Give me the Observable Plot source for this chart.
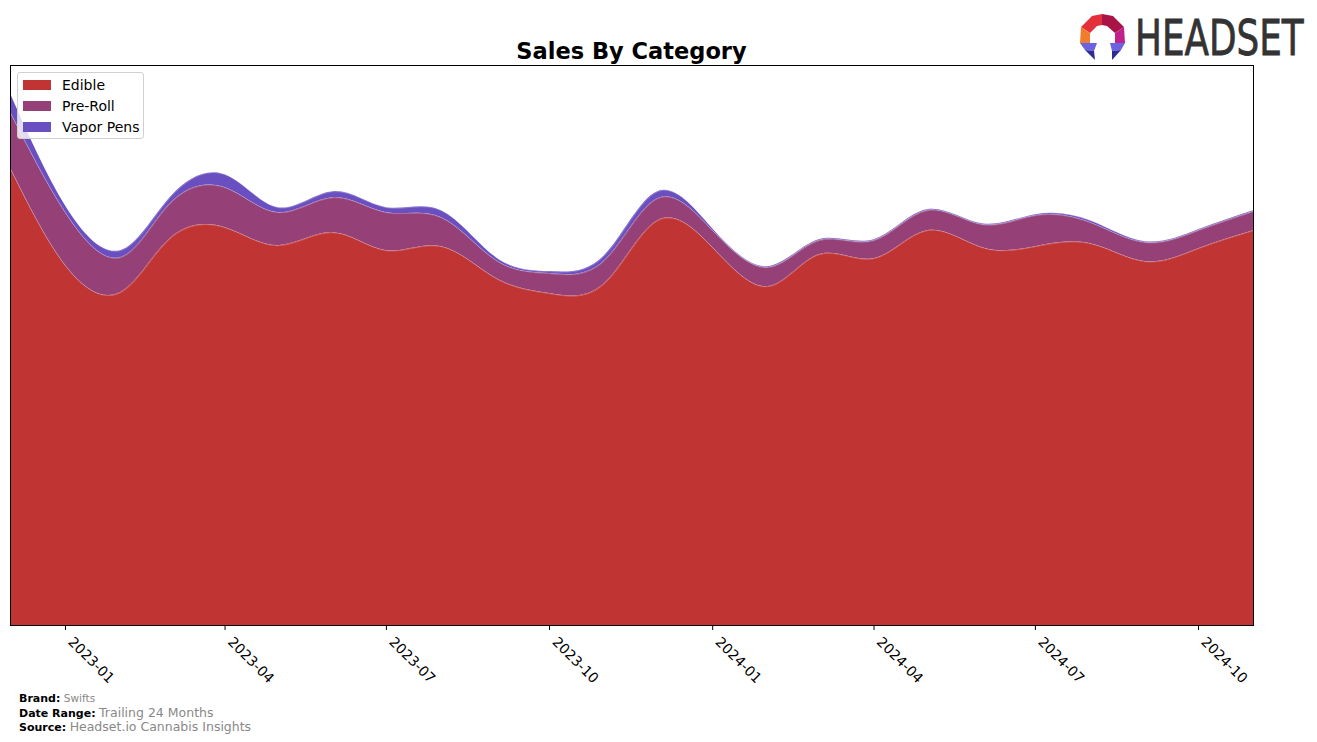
<!DOCTYPE html>
<html>
<head>
<meta charset="utf-8">
<script src="https://cdn.jsdelivr.net/npm/d3@7"></script>
<script src="https://cdn.jsdelivr.net/npm/@observablehq/plot@0.6"></script>
<style>
  html, body { margin: 0; padding: 0; background: #fff; }
  body { width: 1317px; height: 742px; overflow: hidden; font-family: "DejaVu Sans", sans-serif; }
  #wrap { position: relative; width: 1317px; height: 742px; }
  #wrap > svg.plot { position: absolute; left: 0; top: 0; }
  .title { position: absolute; left: 10px; width: 1243px; top: 37px; text-align: center; font-weight: bold; font-size: 22.5px; color: #000; line-height: 28px; }
  .legend { position: absolute; left: 17px; top: 72px; width: 127px; height: 67px; background: rgba(255,255,255,0.8); border: 1px solid #d0d0d0; border-radius: 3px; box-sizing: border-box; }
  .legend .row { position: absolute; left: 5px; height: 20px; display: flex; align-items: center; font-size: 14px; color: #000; }
  .legend .sw { width: 28px; height: 10px; margin-right: 11px; }
  .footer { position: absolute; left: 19px; font-size: 11px; line-height: 14px; white-space: nowrap; }
  .footer b { color: #000; }
  .footer span { color: #888; }
  #logo { position: absolute; left: 1070px; top: 5px; }
  .brandname { position: absolute; left: 1135px; top: 9.5px; font-family: "DejaVu Sans", sans-serif; font-size: 49px; line-height: 57px; color: #333; transform: scaleX(0.73); transform-origin: 0 0; white-space: nowrap; -webkit-text-stroke: 0.8px #333; }
</style>
</head>
<body>
<div id="wrap"></div>
<script>
// ---- data (values in chart units) ----
const months = ["2022-12-01","2023-01-01","2023-02-01","2023-03-01","2023-04-01","2023-05-01","2023-06-01","2023-07-01","2023-08-01","2023-09-01","2023-10-01","2023-11-01","2023-12-01","2024-01-01","2024-02-01","2024-03-01","2024-04-01","2024-05-01","2024-06-01","2024-07-01","2024-08-01","2024-09-01","2024-10-01","2024-11-01"];
const categories = ["Edible", "Pre-Roll", "Vapor Pens"];
const edible    = [457, 360, 333, 387, 398, 380, 393, 375, 379, 347, 332, 342, 405, 378, 339, 371, 367, 395, 378, 379, 382, 364, 377, 395];
const preRoll   = [ 56,  53,  35,  35,  40,  33,  35,  38,  29,  18,  20,  23,  22,  17,  19,  14,  18,  20,  23,  31,  21,  19,  18,  19];
const vaporPens = [ 19,   7,   7,   6,  13,   5,   6,   5,   7,   3,   2,   5,   7,   2,   1,   1,   1,   1,   1,   1,   2,   1,   1,   1];
const colors = ["#c03434", "#954077", "#6a4fc1"];
const tickMonths = ["2023-01-01","2023-04-01","2023-07-01","2023-10-01","2024-01-01","2024-04-01","2024-07-01","2024-10-01"];

// ---- tidy table ----
const series = [edible, preRoll, vaporPens];
const data = [];
categories.forEach((c, ci) => {
  months.forEach((m, i) => data.push({date: new Date(m), category: c, value: series[ci][i]}));
});
const totals = months.map((m, i) => edible[i] + preRoll[i] + vaporPens[i]);
const tickDates = tickMonths.map(d => new Date(d));

const chart = Plot.plot({
  width: 1317,
  height: 742,
  marginLeft: 10,
  marginRight: 64,
  marginTop: 65,
  marginBottom: 117,
  style: {fontFamily: "DejaVu Sans, sans-serif", background: "transparent", overflow: "visible"},
  x: {type: "utc", domain: [new Date(months[0]), new Date(months[months.length - 1])]},
  y: {domain: [0, d3.max(totals) * 1.053], axis: null},
  color: {domain: categories, range: colors},
  marks: [
    Plot.areaY(data, {x: "date", y: "value", fill: "category", z: "category", order: categories, curve: "natural"}),
    Plot.lineY(data, Plot.stackY2({x: "date", y: "value", z: "category", order: categories, curve: "natural", stroke: "#ffffff", strokeOpacity: 0.25, strokeWidth: 1})),
    Plot.frame({stroke: "#000", strokeWidth: 1}),
    // tick marks
    Plot.axisX({ticks: tickDates, tickFormat: () => "", tickSize: 5, stroke: "#000", label: null}),
    // tick labels
    Plot.axisX({
      ticks: tickDates,
      tickFormat: d3.utcFormat("%Y-%m"),
      tickRotate: 45,
      tickSize: 0,
      tickPadding: 8,
      fontSize: 14,
      dx: 5,
      dy: 6,
      fill: "#000",
      label: null
    })
  ]
});
const wrap = document.getElementById("wrap");
wrap.appendChild(chart);

// ---- title ----
const title = document.createElement("div");
title.className = "title";
title.textContent = "Sales By Category";
wrap.appendChild(title);

// ---- legend ----
const legend = document.createElement("div");
legend.className = "legend";
categories.forEach((c, i) => {
  const row = document.createElement("div");
  row.className = "row";
  row.style.top = (2 + i * 21) + "px";
  const sw = document.createElement("div");
  sw.className = "sw";
  sw.style.background = colors[i];
  row.appendChild(sw);
  const t = document.createElement("span");
  t.textContent = c;
  row.appendChild(t);
  legend.appendChild(row);
});
wrap.appendChild(legend);

// ---- footer ----
const footer = [
  ["Brand:", "Swifts", 691, 10.5],
  ["Date Range:", "Trailing 24 Months", 706, 12.5],
  ["Source:", "Headset.io Cannabis Insights", 720, 12.5]
];
footer.forEach(([k, v, top, fs]) => {
  const d = document.createElement("div");
  d.className = "footer";
  d.style.top = top + "px";
  d.innerHTML = `<b>${k}</b> <span style="font-size:${fs}px">${v}</span>`;
  wrap.appendChild(d);
});

// ---- logo ----
const logo = document.createElementNS("http://www.w3.org/2000/svg", "svg");
logo.setAttribute("id", "logo");
logo.setAttribute("width", "60");
logo.setAttribute("height", "62");
logo.innerHTML = `
  <g transform="translate(-1070,-5)">
    <polygon points="1081,27 1092,16 1102,14 1102,25 1097,26 1090,33" fill="#e3303a"/>
    <polygon points="1102,14 1113,16 1124,27 1115,33 1107,26 1102,25" fill="#a81445"/>
    <polygon points="1081,27 1090,33 1090,43 1080,43" fill="#f07d2c"/>
    <polygon points="1124,27 1125,43 1115,43 1115,33" fill="#c0218c"/>
    <polygon points="1080,43 1097,43 1094,51 1085,50" fill="#6a62e0"/>
    <polygon points="1085,50 1094,51 1095,60" fill="#2c2c92"/>
    <polygon points="1110,43 1125,43 1121,50 1112,51" fill="#6a62e0"/>
    <polygon points="1112,51 1121,50 1112,60" fill="#2c2c92"/>
  </g>`;
wrap.appendChild(logo);
const brand = document.createElement("div");
brand.className = "brandname";
brand.textContent = "HEADSET";
wrap.appendChild(brand);
</script>
</body>
</html>
